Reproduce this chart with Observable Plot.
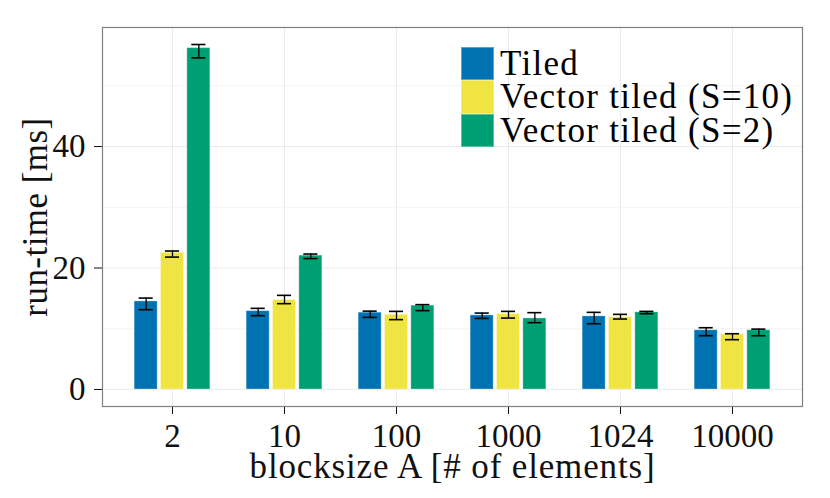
<!DOCTYPE html>
<html>
<head>
<meta charset="utf-8">
<script src="https://cdn.jsdelivr.net/npm/d3@7"></script>
<script src="https://cdn.jsdelivr.net/npm/@observablehq/plot@0.6"></script>
<style>
  html, body { margin: 0; padding: 0; background: white; }
  #wrap { position: relative; width: 830px; height: 498px; background: white; }
  g[aria-label="x-axis label"] text { font-size: 35px; letter-spacing: 0.85px; }
  g[aria-label="y-axis label"] text { font-size: 35px; letter-spacing: 0.45px; }
  #legend { position: absolute; left: 461px; top: 47px; font-family: "Liberation Serif", "Times New Roman", serif; font-size: 35px; letter-spacing: 1.3px; color: #000; }
  .row { display: flex; align-items: flex-start; height: 33.3px; }
  .key { width: 33px; height: 33.3px; box-sizing: border-box; border: 1px solid rgba(255,255,255,0.35); }
  .lab { margin-left: 6px; line-height: 33.3px; white-space: nowrap; }
</style>
</head>
<body>
<div id="wrap">
  <div id="chart"></div>
  <div id="legend"></div>
</div>
<script>
// ---- data ----
const groups = ["2", "10", "100", "1000", "1024", "10000"];
const series = ["Tiled", "Vector tiled (S=10)", "Vector tiled (S=2)"];
const colors = ["#0072B2", "#F0E442", "#009E73"];

const tiled    = [14.5, 12.9, 12.65, 12.2, 12.04, 9.75];
const tiledLo  = [13.14, 12.15, 11.87, 11.7, 10.83, 8.85];
const tiledHi  = [15.05, 13.36, 12.9, 12.58, 12.7, 10.17];

const vec10    = [22.5, 14.72, 12.3, 12.4, 11.9, 9.07];
const vec10Lo  = [21.8, 14.13, 11.5, 11.76, 11.6, 8.2];
const vec10Hi  = [22.8, 15.5, 12.86, 12.86, 12.37, 9.18];

const vec2     = [56.2, 22.04, 13.8, 11.7, 12.7, 9.75];
const vec2Lo   = [54.6, 21.55, 12.98, 11.0, 12.48, 8.85];
const vec2Hi   = [56.8, 22.3, 13.97, 12.65, 12.86, 9.94];

const yTicks = [0, 20, 40];
const yMinor = [10, 30, 50];

// ---- table ----
const values = [tiled, vec10, vec2];
const lows = [tiledLo, vec10Lo, vec2Lo];
const highs = [tiledHi, vec10Hi, vec2Hi];
const data = [];
groups.forEach((g, i) => {
  series.forEach((s, j) => {
    data.push({group: g, series: s, j, value: values[j][i], lo: lows[j][i], hi: highs[j][i]});
  });
});

// ---- layout (ggplot-like dodge: groups 0.7 wide, 1 apart, 0.6 expansion) ----
const W = 830, H = 498, mL = 102, mR = 28, mT = 27, mB = 92;
const padInner = 0.3, padOuter = 0.25;
const step = (W - mL - mR) / (groups.length - padInner + 2 * padOuter);
const bw = step * (1 - padInner);
const slot = bw / series.length;
const gap = 1.15, capInset = 5.6;

const seriesMarks = series.flatMap((s, j) => {
  const d = data.filter(r => r.j === j);
  const leftOff = j * slot, rightOff = (series.length - 1 - j) * slot;
  const dx = (j - (series.length - 1) / 2) * slot;
  return [
    Plot.barY(d, {x: "group", y: "value", fill: "series", insetLeft: leftOff + gap, insetRight: rightOff + gap, stroke: "white", strokeOpacity: 0.3, strokeWidth: 1}),
    Plot.ruleX(d, {x: "group", y1: "lo", y2: "hi", dx, stroke: "#000", strokeWidth: 1.3}),
    Plot.tickY(d, {x: "group", y: "lo", insetLeft: leftOff + capInset, insetRight: rightOff + capInset, stroke: "#000", strokeWidth: 1.6}),
    Plot.tickY(d, {x: "group", y: "hi", insetLeft: leftOff + capInset, insetRight: rightOff + capInset, stroke: "#000", strokeWidth: 1.6})
  ];
});

const chart = Plot.plot({
  width: W,
  height: H,
  marginLeft: mL,
  marginRight: mR,
  marginTop: mT,
  marginBottom: mB,
  style: {fontFamily: "\"Liberation Serif\", \"Times New Roman\", serif", fontSize: "33px", color: "#111", background: "white", overflow: "visible"},
  x: {domain: groups, paddingInner: padInner, paddingOuter: padOuter},
  y: {domain: [-2.8, 59.6]},
  color: {domain: series, range: colors},
  marks: [
    Plot.ruleY(yMinor, {y: d => d, stroke: "#f4f4f4", strokeWidth: 1}),
    Plot.ruleY(yTicks, {y: d => d, stroke: "#ebebeb", strokeWidth: 1}),
    Plot.gridX({stroke: "#ebebeb", strokeOpacity: 1, strokeWidth: 1}),
    ...seriesMarks,
    Plot.axisX({anchor: "bottom", tickSize: 8, tickPadding: 9, label: "blocksize A [# of elements]", labelAnchor: "center", labelOffset: 71, labelArrow: "none"}),
    Plot.axisY({ticks: yTicks, anchor: "left", tickSize: 8, tickPadding: 9, label: "run-time [ms]", labelAnchor: "center", labelOffset: 80, labelArrow: "none"}),
    Plot.frame({stroke: "#7f7f7f", strokeWidth: 1.2})
  ]
});
document.getElementById("chart").appendChild(chart);

// ---- legend ----
const legend = document.getElementById("legend");
series.forEach((s, i) => {
  const row = document.createElement("div");
  row.className = "row";
  const key = document.createElement("div");
  key.className = "key";
  key.style.background = colors[i];
  const lab = document.createElement("div");
  lab.className = "lab";
  lab.textContent = s;
  row.appendChild(key);
  row.appendChild(lab);
  legend.appendChild(row);
});
</script>
</body>
</html>
